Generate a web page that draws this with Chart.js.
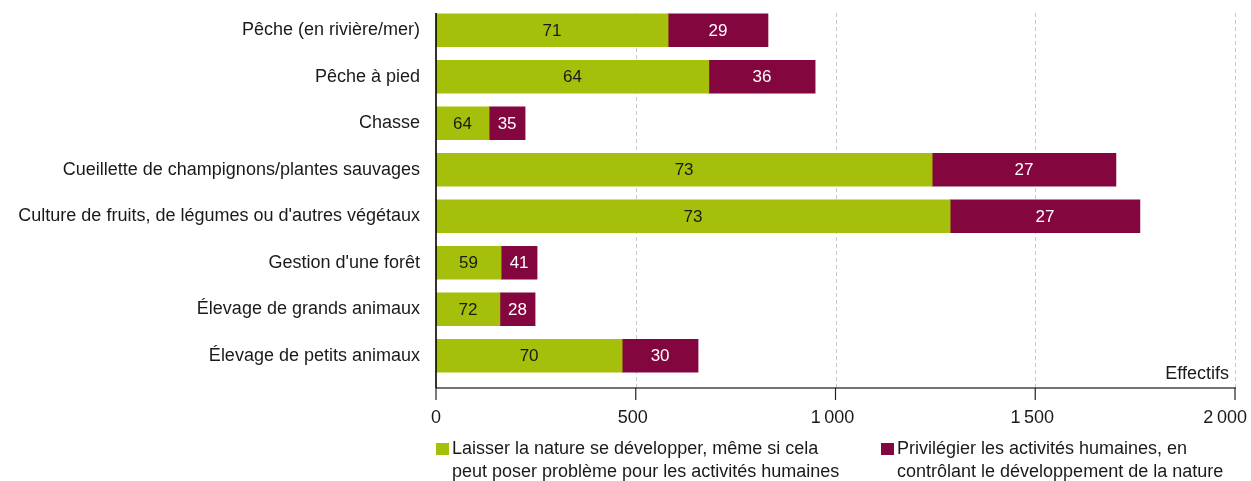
<!DOCTYPE html>
<html>
<head>
<meta charset="utf-8">
<script src="https://cdn.jsdelivr.net/npm/chart.js@4/dist/chart.umd.min.js"></script>
<style>
  html, body { margin: 0; padding: 0; background: #fff; }
  .wrap { position: relative; width: 1251px; height: 481px; font-family: "Liberation Sans", Arial, Helvetica, sans-serif; }
  .legend-item { position: absolute; top: 437px; font-size: 18px; line-height: 23px; color: #1a1a1a; }
  .legend-item .box { position: absolute; left: 0; top: 6px; width: 13px; height: 12px; }
  .legend-item .txt { padding-left: 16px; white-space: nowrap; }
</style>
</head>
<body>
<div class="wrap">
  <canvas id="chart" width="1251" height="481"></canvas>
  <div class="legend-item" style="left:436px"><span class="box" style="background:#a6bf0b"></span><div class="txt">Laisser la nature se développer, même si cela<br>peut poser problème pour les activités humaines</div></div>
  <div class="legend-item" style="left:881px"><span class="box" style="background:#84063f"></span><div class="txt">Privilégier les activités humaines, en<br>contrôlant le développement de la nature</div></div>
</div>
<script>
// Data (counts = bar length, percents = labels in bars)
const categories = [
    'Pêche (en rivière/mer)',
    'Pêche à pied',
    'Chasse',
    'Cueillette de champignons/plantes sauvages',
    "Culture de fruits, de légumes ou d'autres végétaux",
    "Gestion d'une forêt",
    'Élevage de grands animaux',
    'Élevage de petits animaux'
];
const natureCounts = [581, 683, 133, 1242, 1287, 163, 160, 466];
const humanCounts = [250, 266, 90, 460, 475, 90, 88, 190];
const naturePct = [71, 64, 64, 73, 73, 59, 72, 70];
const humanPct = [29, 36, 35, 27, 27, 41, 28, 30];
const xTicks = [0, 500, 1000, 1500, 2000];
const xTickLabels = ['0', '500', '1\u2009000', '1\u2009500', '2\u2009000'];

const GREEN = '#a6bf0b';
const PURPLE = '#84063f';
const FONT = '"Liberation Sans", Arial, Helvetica, sans-serif';

function noPad(s) {
    s.paddingTop = 0;
    s.paddingBottom = 0;
    s.paddingLeft = 0;
    s.paddingRight = 0;
}

// gridlines, axis lines, tick marks and tick labels (x axis sits a bit below the bars)
const axisPlugin = {
    id: 'axisPlugin',
    beforeDatasetsDraw(chart) {
        const { ctx, chartArea, scales } = chart;
        const axisY = chartArea.bottom + 9;
        ctx.save();
        ctx.strokeStyle = '#c8c8c8';
        ctx.lineWidth = 1;
        ctx.setLineDash([4, 3]);
        xTicks.forEach(v => {
            if (v === 0) return;
            const x = Math.round(scales.x.getPixelForValue(v)) + 0.5;
            ctx.beginPath();
            ctx.moveTo(x, chartArea.top + 6);
            ctx.lineTo(x, axisY);
            ctx.stroke();
        });
        ctx.restore();
    },
    afterDraw(chart) {
        const { ctx, chartArea, scales } = chart;
        const axisY = chartArea.bottom + 9;
        ctx.save();
        // x axis line
        ctx.strokeStyle = '#444';
        ctx.lineWidth = 1.5;
        ctx.beginPath();
        ctx.moveTo(chartArea.left, axisY);
        ctx.lineTo(scales.x.getPixelForValue(2000) + 1, axisY);
        ctx.stroke();
        // tick marks + labels
        ctx.strokeStyle = '#222';
        ctx.lineWidth = 1.2;
        ctx.fillStyle = '#1a1a1a';
        ctx.font = '18px ' + FONT;
        ctx.textBaseline = 'middle';
        xTicks.forEach((v, i) => {
            const x = scales.x.getPixelForValue(v);
            ctx.beginPath();
            ctx.moveTo(x, axisY);
            ctx.lineTo(x, axisY + 12);
            ctx.stroke();
            if (i === xTicks.length - 1) {
                ctx.textAlign = 'right';
                ctx.fillText(xTickLabels[i], x + 12, axisY + 30);
            } else {
                ctx.textAlign = 'center';
                ctx.fillText(xTickLabels[i], i === 0 ? x : x - 3, axisY + 30);
            }
        });
        // y axis line
        ctx.strokeStyle = '#000';
        ctx.lineWidth = 1.6;
        ctx.beginPath();
        ctx.moveTo(chartArea.left, chartArea.top + 6);
        ctx.lineTo(chartArea.left, axisY);
        ctx.stroke();
        // axis title
        ctx.font = '18px ' + FONT;
        ctx.textAlign = 'right';
        ctx.textBaseline = 'middle';
        ctx.fillText('Effectifs', scales.x.getPixelForValue(2000) - 6, chartArea.bottom - 5);
        ctx.restore();
    }
};

// percentage labels inside the bars
const barLabels = {
    id: 'barLabels',
    afterDatasetsDraw(chart) {
        const { ctx } = chart;
        const pcts = [naturePct, humanPct];
        const colors = ['#1a1a1a', '#ffffff'];
        ctx.save();
        ctx.font = '17px ' + FONT;
        ctx.textAlign = 'center';
        ctx.textBaseline = 'middle';
        chart.data.datasets.forEach((ds, di) => {
            chart.getDatasetMeta(di).data.forEach((bar, i) => {
                const cx = (bar.x + bar.base) / 2;
                ctx.fillStyle = colors[di];
                ctx.fillText(pcts[di][i], cx, bar.y + 1);
            });
        });
        ctx.restore();
    }
};

new Chart(document.getElementById('chart'), {
    type: 'bar',
    data: {
        labels: categories,
        datasets: [
            { label: 'Laisser la nature se développer', data: natureCounts, backgroundColor: GREEN },
            { label: 'Privilégier les activités humaines', data: humanCounts, backgroundColor: PURPLE }
        ]
    },
    options: {
        indexAxis: 'y',
        responsive: false,
        animation: false,
        layout: { padding: { top: 7, left: 0, right: 16, bottom: 0 } },
        datasets: { bar: { barThickness: 33 } },
        plugins: {
            legend: { display: false },
            tooltip: { enabled: false }
        },
        scales: {
            x: {
                stacked: true,
                min: 0,
                max: 2000,
                afterFit: s => { s.height = 102; noPad(s); },
                grid: { display: false, drawTicks: false },
                border: { display: false },
                ticks: { display: false }
            },
            y: {
                stacked: true,
                afterFit: s => { s.width = 436; noPad(s); },
                grid: { display: false, drawTicks: false },
                border: { display: false },
                ticks: {
                    padding: 16,
                    color: '#1a1a1a',
                    font: { family: FONT, size: 18 }
                }
            }
        }
    },
    plugins: [axisPlugin, barLabels]
});
</script>
</body>
</html>
